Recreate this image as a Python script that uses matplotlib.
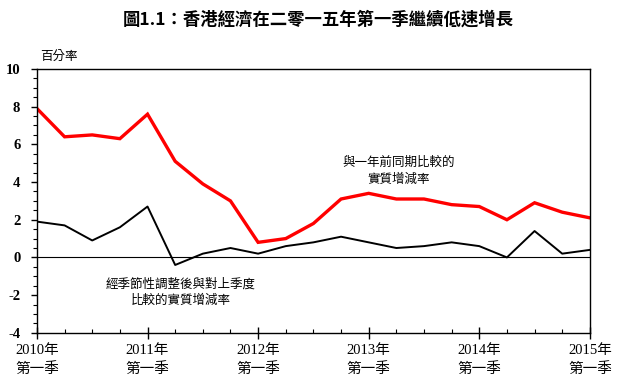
import numpy as np
import matplotlib.pyplot as plt
from matplotlib.ticker import MultipleLocator

plt.rcParams['axes.unicode_minus'] = False

SERIF = ['Liberation Serif', 'Noto Sans CJK TC']
CJK = ['Noto Sans CJK TC', 'DejaVu Sans']

# quarters 2010 Q1 .. 2015 Q1
quarters = np.arange(21)
yoy = [7.9, 6.4, 6.5, 6.3,
       7.6, 5.1, 3.9, 3.0,
       0.8, 1.0, 1.8, 3.1,
       3.4, 3.1, 3.1, 2.8,
       2.7, 2.0, 2.9, 2.4,
       2.1]
qoq_sa = [1.9, 1.7, 0.9, 1.6,
          2.7, -0.4, 0.2, 0.5,
          0.2, 0.6, 0.8, 1.1,
          0.8, 0.5, 0.6, 0.8,
          0.6, 0.0, 1.4, 0.2,
          0.4]
year_labels = ['2010年\n第一季', '2011年\n第一季', '2012年\n第一季',
               '2013年\n第一季', '2014年\n第一季', '2015年\n第一季']

fig = plt.figure(figsize=(6.37, 3.83), dpi=100)
ax = fig.add_axes([0.058, 0.131, 0.868, 0.689])

ax.plot(quarters, yoy, color='#ff0000', lw=2.4, solid_joinstyle='miter')
ax.plot(quarters, qoq_sa, color='black', lw=1.4)
ax.axhline(0, color='black', lw=0.8)

ax.set_xlim(0, 20)
ax.set_ylim(-4, 10)
ax.yaxis.set_major_locator(MultipleLocator(2))
ax.yaxis.set_minor_locator(MultipleLocator(0.5))
ax.set_xticks(np.arange(0, 21, 4))
ax.set_xticks(np.arange(0, 21, 1), minor=True)
ax.set_xticklabels(year_labels, family=SERIF, fontsize=10.5, linespacing=1.45)
for lbl in ax.get_yticklabels():
    lbl.set_family(SERIF)
    lbl.set_fontsize(10.5)
    lbl.set_fontweight('bold')
ax.tick_params(axis='y', which='major', direction='out', length=4, width=1, pad=8)
ax.tick_params(axis='y', which='minor', direction='out', length=3, width=0.8)
ax.tick_params(axis='x', which='major', direction='inout', length=8, width=1, pad=4)
ax.tick_params(axis='x', which='minor', direction='in', length=3, width=0.8)
for s in ax.spines.values():
    s.set_linewidth(1.0)

fig.text(0.5, 0.95, '圖1.1：香港經濟在二零一五年第一季繼續低速增長',
         ha='center', va='center', fontsize=12.5, fontweight='bold', family=CJK)
fig.text(0.063, 0.835, '百分率', ha='left', va='bottom', fontsize=9, family=CJK)

ax.text(13.1, 4.6, '與一年前同期比較的\n實質增減率', ha='center', va='center',
        fontsize=9, family=CJK, linespacing=1.4)
ax.text(5.2, -1.85, '經季節性調整後與對上季度\n比較的實質增減率', ha='center', va='center',
        fontsize=9, family=CJK, linespacing=1.4)

fig.savefig('out.png', dpi=100)
